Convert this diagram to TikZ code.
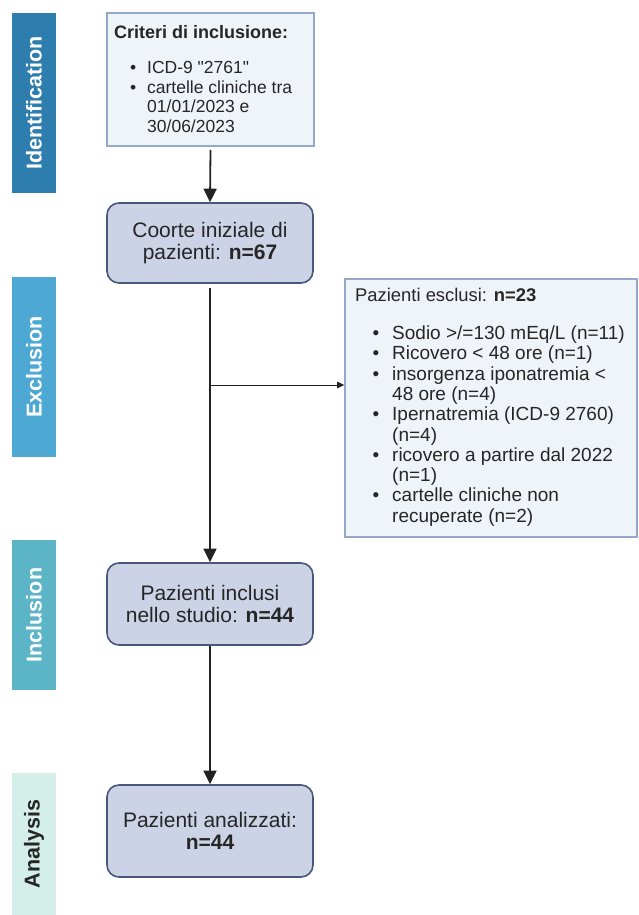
\documentclass[tikz,border=0pt]{standalone}
\usepackage{fontspec}
\setmainfont{Liberation Sans}
\usetikzlibrary{arrows.meta}
\definecolor{cId}{HTML}{2E7DAF}
\definecolor{cEx}{HTML}{4DA9D4}
\definecolor{cIn}{HTML}{5CB5C6}
\definecolor{cAn}{HTML}{D4EEEA}
\definecolor{critFill}{HTML}{EFF4F9}
\definecolor{critLine}{HTML}{94A8C9}
\definecolor{roundFill}{HTML}{CDD3E6}
\definecolor{roundLine}{HTML}{48587A}
\definecolor{arrowCol}{HTML}{222222}
\begin{document}
\begin{tikzpicture}[x=1pt,y=-1pt,
  sidebar/.style={draw=none, rotate=90, minimum height=44pt, inner sep=0pt,
     font=\fontsize{21.5}{24}\selectfont\bfseries, text=white},
  critbox/.style={draw=critLine, fill=critFill, line width=1.6pt, inner sep=0pt},
  roundbox/.style={draw=roundLine, fill=roundFill, line width=1.6pt, rounded corners=12pt,
     minimum width=206pt, align=center, font=\fontsize{21}{22.5}\selectfont, text=black!85},
  bigarrow/.style={draw=arrowCol, line width=1.8pt, -{Triangle[length=13.5pt,width=13pt]}},
  smallarrow/.style={draw=arrowCol, line width=0.9pt, -{Triangle[length=7pt,width=6.5pt]}},
  listtext/.style={anchor=base west, inner sep=0pt, align=left, text=black!85}
]
\useasboundingbox (0,0) rectangle (638,915);
\fill[white] (0,0) rectangle (638,915);

% side bars
\node[sidebar, fill=cId, minimum width=180pt] (sId) at (34,103) {Identification};
\node[sidebar, fill=cEx, minimum width=180pt] (sEx) at (34,367) {Exclusion};
\node[sidebar, fill=cIn, minimum width=150pt] (sIn) at (34,615) {Inclusion};
\node[sidebar, fill=cAn, minimum width=142pt, text=black!85] (sAn) at (34,844) {Analysis};

% criteria box
\node[critbox, minimum width=207pt, minimum height=133pt] (crit) at (210.5,79.5) {};
\node[listtext, font=\fontsize{18}{20}\selectfont\bfseries] (critH) at (114,38.5) {Criteri di inclusione:};
\node[listtext, font=\fontsize{17.5}{19.4}\selectfont] (critT) at (114,74) {%
  \begin{tabular}[t]{@{}p{33pt}@{}l@{}}
  \hfill\textbullet\hspace{11pt} & ICD-9 \textquotedbl 2761\textquotedbl\\
  \hfill\textbullet\hspace{11pt} & cartelle cliniche tra\\
   & 01/01/2023 e\\
   & 30/06/2023
  \end{tabular}};

% rounded boxes
\node[roundbox, minimum height=80pt] (coorte) at (210,243) {Coorte iniziale di\\pazienti: \textbf{n=67}};
\node[roundbox, minimum height=82pt] (incl) at (210,604) {Pazienti inclusi\\nello studio: \textbf{n=44}};
\node[roundbox, minimum height=92pt] (anal) at (210,831) {Pazienti analizzati:\\\textbf{n=44}};

% excluded box
\node[critbox, minimum width=292pt, minimum height=258pt] (excl) at (491,408) {};
\node[listtext, font=\fontsize{18.4}{20}\selectfont] (exclH) at (355,301.5) {Pazienti esclusi: \textbf{n=23}};
\node[listtext, font=\fontsize{19}{20.3}\selectfont] (exclT) at (355,339.5) {%
  \begin{tabular}[t]{@{}p{37pt}@{}l@{}}
  \hfill\textbullet\hspace{13pt} & Sodio >/=130 mEq/L (n=11)\\
  \hfill\textbullet\hspace{13pt} & Ricovero < 48 ore (n=1)\\
  \hfill\textbullet\hspace{13pt} & insorgenza iponatremia <\\
   & 48 ore (n=4)\\
  \hfill\textbullet\hspace{13pt} & Ipernatremia (ICD-9 2760)\\
   & (n=4)\\
  \hfill\textbullet\hspace{13pt} & ricovero a partire dal 2022\\
   & (n=1)\\
  \hfill\textbullet\hspace{13pt} & cartelle cliniche non\\
   & recuperate (n=2)
  \end{tabular}};

% connectors
\draw[bigarrow] (crit.south) ++(0,3) -- (coorte.north);
\draw[bigarrow] (coorte.south) ++(0,4) -- (incl.north);
\coordinate (br) at (210,385);
\draw[smallarrow] (br) -- (excl.west |- br);
\draw[bigarrow] (incl.south) -- (anal.north);
\end{tikzpicture}
\end{document}
